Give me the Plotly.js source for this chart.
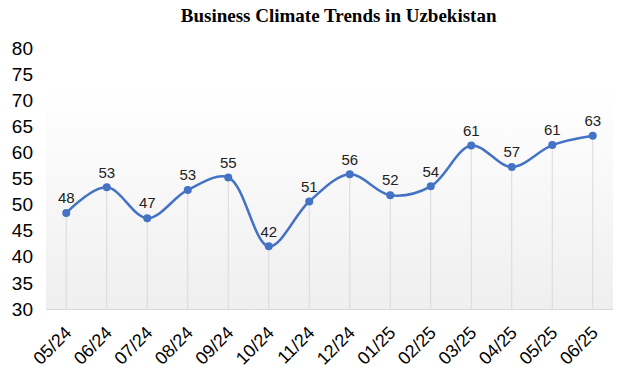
<!DOCTYPE html>
<html>
<head>
<meta charset="utf-8">
<script src="https://cdn.plot.ly/plotly-3.0.1.min.js"></script>
<style>html,body{margin:0;padding:0;background:#fff;}#chart{width:633px;height:387px;}</style>
</head>
<body>
<div id="chart"></div>
<script>
const months = ["05/24","06/24","07/24","08/24","09/24","10/24","11/24","12/24","01/25","02/25","03/25","04/25","05/25","06/25"];
const values = [48.4, 53.3, 47.4, 52.8, 55.2, 42.0, 50.6, 55.8, 51.8, 53.5, 61.3, 57.2, 61.4, 63.2];
const yTicks = [30, 35, 40, 45, 50, 55, 60, 65, 70, 75, 80];
const yMin = 30, yMax = 80;

const gradSvg = '<svg xmlns="http://www.w3.org/2000/svg" width="100" height="100" preserveAspectRatio="none">' +
  '<defs><linearGradient id="g" x1="0" y1="0" x2="0" y2="1">' +
  '<stop offset="0" stop-color="#ffffff"/><stop offset="0.15" stop-color="#ffffff"/>' +
  '<stop offset="1" stop-color="#efefef"/></linearGradient></defs>' +
  '<rect width="100" height="100" fill="url(#g)"/></svg>';
const gradUri = 'data:image/svg+xml;base64,' + btoa(gradSvg);

const trace = {
  x: months,
  y: values,
  type: 'scatter',
  mode: 'lines+markers+text',
  line: {shape: 'spline', smoothing: 1, color: '#4472C4', width: 2.5},
  marker: {size: 8, color: '#4472C4'},
  text: values.map(v => String(Math.round(v))),
  textposition: 'top center',
  textfont: {family: 'Liberation Sans, Arial, sans-serif', size: 15, color: '#222'},
  error_y: {type: 'data', symmetric: false, array: values.map(() => 0), arrayminus: values.map(v => v - yMin), color: '#d9d9d9', thickness: 1, width: 0},
  cliponaxis: false,
  hoverinfo: 'skip'
};

const layout = {
  width: 633, height: 387,
  margin: {l: 46, r: 20, t: 48, b: 78},
  paper_bgcolor: '#ffffff',
  plot_bgcolor: 'rgba(0,0,0,0)',
  showlegend: false,
  title: {text: '<b>Business Climate Trends in Uzbekistan</b>', x: 0.535, xanchor: 'center', y: 0.96, yanchor: 'middle',
          font: {family: 'Liberation Serif, Times New Roman, serif', size: 19, color: '#000'}},
  xaxis: {type: 'category', range: [-0.5, months.length - 0.5], showgrid: false, zeroline: false,
          showline: true, linecolor: '#d9d9d9', linewidth: 1, tickangle: -45, ticks: '', ticklabelstandoff: 5,
          tickfont: {family: 'Liberation Sans, Arial, sans-serif', size: 18, color: '#000'}},
  yaxis: {range: [yMin, yMax], tickvals: yTicks, ticktext: yTicks.map(String), showgrid: false, zeroline: false,
          showline: false, ticks: '', ticklabelstandoff: 12,
          tickfont: {family: 'Liberation Sans, Arial, sans-serif', size: 19, color: '#000'}},
  images: [{source: gradUri, xref: 'paper', yref: 'paper', x: 0, y: 1, sizex: 1, sizey: 1,
            xanchor: 'left', yanchor: 'top', sizing: 'stretch', layer: 'below'}]
};

Plotly.newPlot('chart', [trace], layout, {displayModeBar: false, staticPlot: true});
</script>
</body>
</html>
